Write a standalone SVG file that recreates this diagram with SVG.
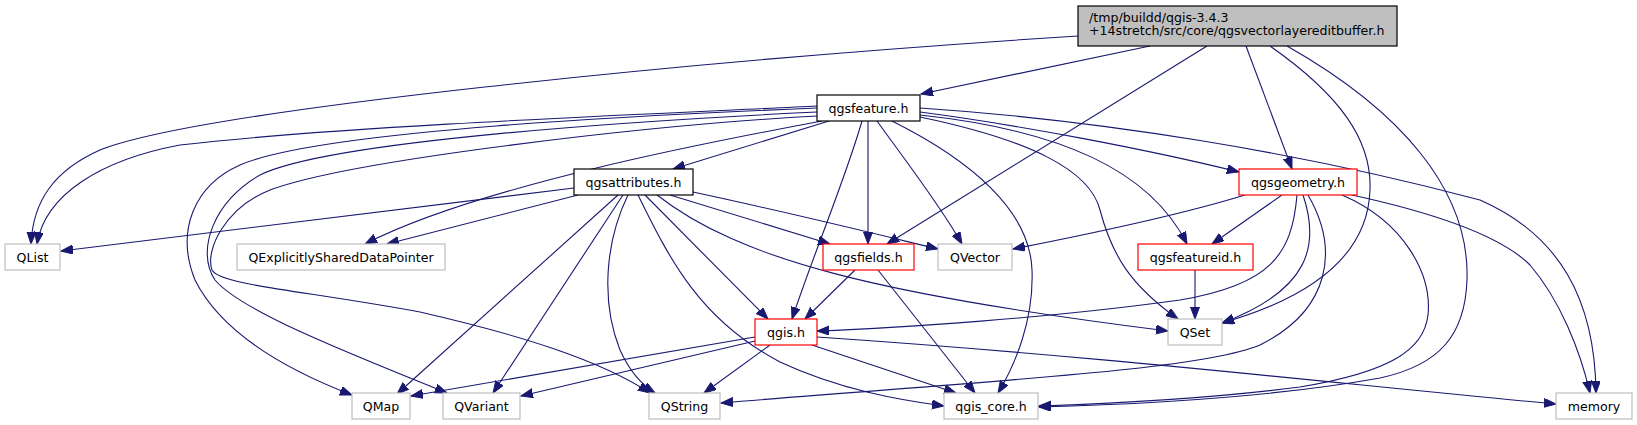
<svg xmlns="http://www.w3.org/2000/svg" width="1637" height="425" viewBox="0 0 1637 425">
<style>
.n rect{stroke-width:1.2}
.root rect{fill:#bfbfbf;stroke:#000}
.int rect{fill:#fff;stroke:#000}
.red rect{fill:#fff;stroke:#ff0000}
.leaf rect{fill:#fff;stroke:#bfbfbf}
text{font-family:"DejaVu Sans","Liberation Sans",sans-serif;font-size:12.6px;fill:#000;text-anchor:middle}
#edges path{fill:none;stroke:#191970;stroke-width:1.1;marker-end:url(#ah)}
</style>
<defs>
<marker id="ah" markerUnits="userSpaceOnUse" markerWidth="13" markerHeight="10" refX="12" refY="4.5" orient="auto">
<path d="M0,0 L12,4.5 L0,9 z" fill="#191970" stroke="#191970" stroke-width="1"/>
</marker>
</defs>
<rect width="1637" height="425" fill="#fff"/>
<g id="edges">
<path d="M1078,36 C700,60 200,110 100,150 C55,170 33,200 31,244"/>
<path d="M1150,46 L921,94"/>
<path d="M1207,46 L887,244"/>
<path d="M1246,46 L1292,169"/>
<path d="M1270,46 C1340,95 1372,140 1370,190 C1368,250 1320,295 1222,323"/>
<path d="M1287,46 C1400,110 1470,190 1467,280 C1465,335 1440,365 1380,378 C1280,396 1150,404 1039,407"/>
<path d="M817,106 C700,112 350,125 180,145 C100,160 45,195 37,244"/>
<path d="M829,121 L673,169"/>
<path d="M822,121 C720,140 480,185 365,244"/>
<path d="M817,108 C650,115 320,130 240,165 C195,185 175,230 195,280 C225,340 300,375 352,395"/>
<path d="M817,112 C650,120 330,140 260,175 C215,200 195,250 215,280 C240,310 340,350 447,393"/>
<path d="M817,116 C650,125 350,160 270,190 C225,208 205,250 212,270 C220,285 300,290 420,312 C520,335 600,360 650,393"/>
<path d="M868,121 L868,244"/>
<path d="M862,121 C845,180 815,250 792,319"/>
<path d="M877,121 C905,160 940,205 962,244"/>
<path d="M892,121 C970,160 1030,210 1032,270 C1034,320 1015,365 998,393"/>
<path d="M920,117 C1030,140 1090,170 1100,210 C1112,255 1130,285 1178,319"/>
<path d="M920,115 C1060,130 1150,170 1187,244"/>
<path d="M920,112 C1020,125 1150,150 1239,172"/>
<path d="M920,108 C1100,120 1300,152 1480,200 C1560,235 1595,300 1596,393"/>
<path d="M574,188 L61,251"/>
<path d="M578,195 L387,244"/>
<path d="M618,195 L397,394"/>
<path d="M623,195 L493,393"/>
<path d="M628,195 C606,240 600,300 620,350 C630,372 642,385 655,393"/>
<path d="M638,195 C670,260 700,320 780,362 C840,390 900,400 944,406"/>
<path d="M645,195 L768,319"/>
<path d="M657,195 C740,260 880,295 1168,331"/>
<path d="M670,195 L830,244"/>
<path d="M693,192 C800,215 880,235 938,249"/>
<path d="M855,270 L805,319"/>
<path d="M878,270 L975,393"/>
<path d="M1245,195 C1180,215 1100,232 1013,249"/>
<path d="M1282,195 L1212,244"/>
<path d="M1297,195 C1292,255 1270,285 1180,300 C1050,318 900,328 817,331"/>
<path d="M1303,195 C1320,245 1310,290 1222,323"/>
<path d="M1308,195 C1340,250 1330,310 1260,345 C1200,370 1000,380 721,403"/>
<path d="M1342,195 C1405,222 1432,275 1428,315 C1424,350 1390,372 1300,387 C1200,400 1100,404 1039,406"/>
<path d="M1352,195 C1430,212 1500,235 1530,265 C1560,300 1580,350 1590,393"/>
<path d="M1195,270 L1195,319"/>
<path d="M755,337 L411,396"/>
<path d="M755,341 L521,396"/>
<path d="M770,345 L704,393"/>
<path d="M812,345 L956,393"/>
<path d="M817,337 C1100,356 1350,385 1556,404"/>
</g>
<g id="node-root" class="n root"><rect x="1078" y="6" width="319" height="40"/><text x="1089" y="21.5" style="text-anchor:start">/tmp/buildd/qgis-3.4.3</text><text x="1089" y="35" style="text-anchor:start">+14stretch/src/core/qgsvectorlayereditbuffer.h</text></g>
<g id="node-qgsfeature" class="n int"><rect x="817" y="95" width="103" height="26"/><text x="868.5" y="112.5">qgsfeature.h</text></g>
<g id="node-qgsattributes" class="n int"><rect x="574" y="169" width="119" height="26"/><text x="633.5" y="186.5">qgsattributes.h</text></g>
<g id="node-qgsgeometry" class="n red"><rect x="1239" y="169" width="118" height="26"/><text x="1298" y="186.5">qgsgeometry.h</text></g>
<g id="node-QList" class="n leaf"><rect x="5" y="244" width="55" height="26"/><text x="32.5" y="261.5">QList</text></g>
<g id="node-QESDP" class="n leaf"><rect x="237" y="244" width="208" height="26"/><text x="341" y="261.5">QExplicitlySharedDataPointer</text></g>
<g id="node-qgsfields" class="n red"><rect x="823" y="244" width="91" height="26"/><text x="868.5" y="261.5">qgsfields.h</text></g>
<g id="node-QVector" class="n leaf"><rect x="938" y="244" width="74" height="26"/><text x="975" y="261.5">QVector</text></g>
<g id="node-qgsfeatureid" class="n red"><rect x="1138" y="244" width="115" height="26"/><text x="1195.5" y="261.5">qgsfeatureid.h</text></g>
<g id="node-qgis" class="n red"><rect x="755" y="319" width="62" height="26"/><text x="786" y="336.5">qgis.h</text></g>
<g id="node-QSet" class="n leaf"><rect x="1168" y="319" width="54" height="26"/><text x="1195" y="336.5">QSet</text></g>
<g id="node-QMap" class="n leaf"><rect x="352" y="393" width="58" height="26"/><text x="381" y="410.5">QMap</text></g>
<g id="node-QVariant" class="n leaf"><rect x="443" y="393" width="77" height="26"/><text x="481.5" y="410.5">QVariant</text></g>
<g id="node-QString" class="n leaf"><rect x="649" y="393" width="71" height="26"/><text x="684.5" y="410.5">QString</text></g>
<g id="node-qgis_core" class="n leaf"><rect x="944" y="393" width="94" height="26"/><text x="991" y="410.5">qgis_core.h</text></g>
<g id="node-memory" class="n leaf"><rect x="1556" y="393" width="76" height="26"/><text x="1594" y="410.5">memory</text></g>
</svg>
